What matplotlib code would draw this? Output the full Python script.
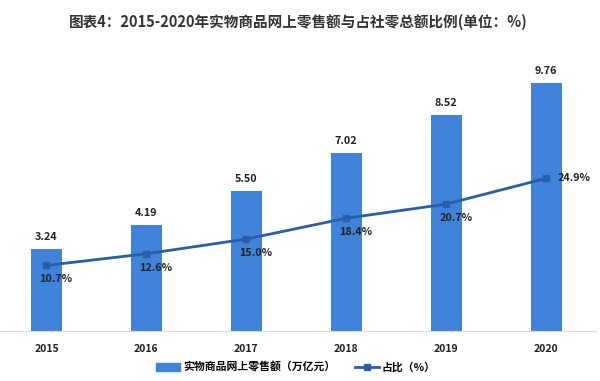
import matplotlib
matplotlib.use("Agg")
import matplotlib.pyplot as plt
from matplotlib.lines import Line2D
from matplotlib.patches import Patch

plt.rcParams['font.family'] = ['Noto Sans CJK SC', 'DejaVu Sans']

years = ['2015', '2016', '2017', '2018', '2019', '2020']
sales = [3.24, 4.19, 5.50, 7.02, 8.52, 9.76]
share = [10.7, 12.6, 15.0, 18.4, 20.7, 24.9]
title = '图表4：2015-2020年实物商品网上零售额与占社零总额比例(单位：%)'
bar_label = '实物商品网上零售额（万亿元）'
line_label = '占比（%）'

bar_color = '#3f83db'
line_color = '#2a5ea8'

W, H = 600, 381
fig = plt.figure(figsize=(6, 3.81), dpi=100)
left, right = 0 / W, 596 / W
bottom, top = 1 - 331 / H, 1 - 58 / H
ax = fig.add_axes([left, bottom, right - left, top - bottom])
x = list(range(len(years)))
ax.bar(x, sales, width=0.31, color=bar_color, zorder=2)
ax.set_xlim(-0.465, 5.5)
ax.set_ylim(0, 273 / 25.4)
for s in ['top', 'left', 'right']:
    ax.spines[s].set_visible(False)
ax.spines['bottom'].set_color('#d9d9d9')
ax.set_yticks([])
ax.set_xticks(x)
ax.set_xticklabels(years, fontsize=7.5, fontweight='bold', color='#222222')
ax.tick_params(axis='x', length=0, pad=9)
for xi, v in zip(x, sales):
    ax.annotate(f'{v:.2f}', (xi, v), xytext=(0, 8.6), textcoords='offset points',
                ha='center', va='center', fontsize=7.8, fontweight='bold', color='#222222')

ax2 = ax.twinx()
ax2.plot(x, share, color=line_color, lw=2, marker='s', ms=4.5, zorder=3)
ax2.set_ylim(0, 273 / 6.13)
ax2.set_yticks([])
for s in ['top', 'left', 'right', 'bottom']:
    ax2.spines[s].set_visible(False)
for i, (xi, v) in enumerate(zip(x, share)):
    if i == len(x) - 1:
        ax2.annotate(f'{v:.1f}%', (xi, v), xytext=(8, 0), textcoords='offset points',
                     ha='left', va='center', fontsize=7.8, fontweight='bold', color='#222222')
    else:
        ax2.annotate(f'{v:.1f}%', (xi, v), xytext=(7, -10), textcoords='offset points',
                     ha='center', va='center', fontsize=7.8, fontweight='bold', color='#222222')

fig.text(298 / W, 1 - 22 / H, title, ha='center', va='center', fontsize=10.5, fontweight='bold', color='#333333')

handles = [Patch(color=bar_color), Line2D([0], [0], color=line_color, lw=2, marker='s', ms=4.5)]
fig.legend(handles, [bar_label, line_label], loc='center', bbox_to_anchor=(296 / W, 1 - 367 / H),
           ncol=2, frameon=False, prop={'weight': 'bold', 'size': 7.8},
           handlelength=2.2, handleheight=0.7, columnspacing=1.8, handletextpad=0.3)

fig.savefig('out.png', dpi=100, facecolor='white')
